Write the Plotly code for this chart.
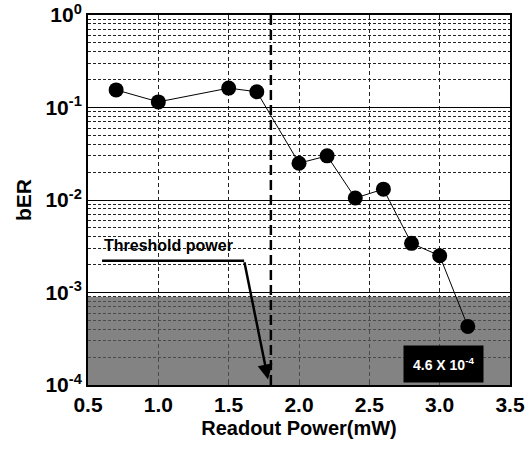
import plotly.graph_objects as go
import numpy as np

power = [0.7, 1.0, 1.5, 1.7, 2.0, 2.2, 2.4, 2.6, 2.8, 3.0, 3.2]
ber = [0.155, 0.115, 0.162, 0.148, 0.025, 0.030, 0.0105, 0.0131, 0.0034, 0.0025, 0.00043]
threshold_x = 1.8
shade_top = 9e-4
y_tickvals = [1e-4, 1e-3, 1e-2, 1e-1, 1]
y_ticktext = ["10<sup>-4</sup>", "10<sup>-3</sup>", "10<sup>-2</sup>", "10<sup>-1</sup>", "10<sup>0</sup>"]
x_tickvals = [0.5, 1.0, 1.5, 2.0, 2.5, 3.0, 3.5]
x_ticktext = ["0.5", "1.0", "1.5", "2.0", "2.5", "3.0", "3.5"]

minor_vals = [m * 10.0**e for e in range(-4, 0) for m in range(2, 10)]

FONT = "Liberation Sans, Arial, sans-serif"

fig = go.Figure()

# shaded region
fig.add_trace(go.Scatter(x=[0.5, 3.5, 3.5, 0.5, 0.5], y=[1e-4, 1e-4, shade_top, shade_top, 1e-4],
                         mode="lines", fill="toself", fillcolor="rgba(90,90,90,0.75)",
                         line=dict(width=0), hoverinfo="skip", showlegend=False))

# threshold dashed line
fig.add_trace(go.Scatter(x=[threshold_x, threshold_x], y=[1e-4, 1], mode="lines",
                         line=dict(color="black", width=2.5, dash="10px,5px"), showlegend=False))

# arrow horizontal segment
fig.add_trace(go.Scatter(x=[0.6, 1.61], y=[2.2e-3, 2.2e-3], mode="lines",
                         line=dict(color="black", width=2.5), showlegend=False))

# data
fig.add_trace(go.Scatter(x=power, y=ber, mode="lines+markers",
                         line=dict(color="black", width=1),
                         marker=dict(color="black", size=15), showlegend=False))

fig.add_annotation(x=threshold_x - 0.02, y=np.log10(1.15e-4), ax=1.61, ay=np.log10(2.2e-3),
                   xref="x", yref="y", axref="x", ayref="y", showarrow=True,
                   arrowhead=2, arrowsize=1.2, arrowwidth=2.5, arrowcolor="black", text="")

fig.add_annotation(x=0.6, y=-2.49, xref="x", yref="y", xanchor="left", yanchor="middle",
                   text="<b>Threshold power</b>", showarrow=False,
                   font=dict(family="Liberation Sans Narrow, Liberation Sans, Arial", size=16, color="black"))

fig.add_annotation(x=3.03, y=-3.77, xref="x", yref="y", text="<b>4.6 X 10<sup>-4</sup></b>",
                   showarrow=False, bgcolor="black", borderpad=9,
                   font=dict(family=FONT, size=14, color="white"))

fig.update_xaxes(range=[0.5, 3.5], tickvals=x_tickvals, ticktext=x_ticktext, automargin=False,
                 ticklabeloverflow="allow",
                 showgrid=True, gridcolor="#222", griddash="4px,3px", gridwidth=1,
                 showline=True, linecolor="black", linewidth=2, mirror=True,
                 ticks="inside", ticklen=4, zeroline=False,
                 tickfont=dict(family=FONT, size=21, color="black", weight="bold"),
                 title=dict(text="<b>Readout Power(mW)</b>", font=dict(family=FONT, size=20, color="black"),
                            standoff=6))
fig.update_yaxes(type="log", range=[-4, 0], tickvals=y_tickvals, ticktext=y_ticktext, automargin=False,
                 ticklabeloverflow="allow",
                 showgrid=True, gridcolor="black", gridwidth=1.2,
                 minor=dict(tickvals=minor_vals, showgrid=True, gridcolor="#222", griddash="3px,2px", gridwidth=1),
                 showline=True, linecolor="black", linewidth=2, mirror=True,
                 ticks="", zeroline=False,
                 tickfont=dict(family=FONT, size=21, color="black", weight="bold"),
                 title=dict(text="<b>bER</b>", font=dict(family=FONT, size=21, color="black"), standoff=8))

fig.update_layout(width=527, height=457, margin=dict(l=88, r=17, t=15, b=72),
                  plot_bgcolor="white", paper_bgcolor="white")

fig.write_html("out.html", config={"displayModeBar": False},
               post_script="document.body.style.margin='0px';")
